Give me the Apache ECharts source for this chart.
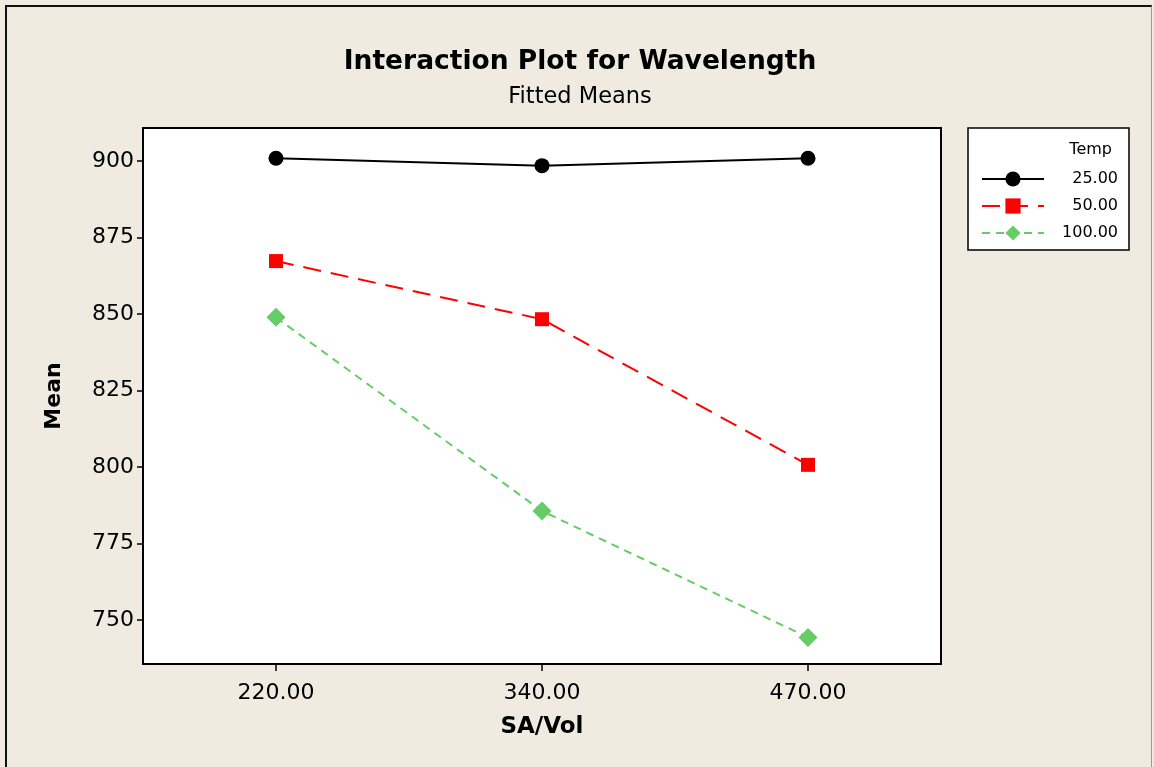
<!DOCTYPE html>
<html>
<head>
<meta charset="utf-8">
<script src="https://cdn.jsdelivr.net/npm/echarts@6/dist/echarts.min.js"></script>
<style>
  html, body { margin: 0; padding: 0; background: #EFEBE1; }
  #frame { position: absolute; left: 0; top: 0; width: 1154px; height: 767px; }
  #chart { position: absolute; left: 0; top: 0; width: 1154px; height: 767px; }
  #edge { position: absolute; left: 5px; top: 5px; width: 1147px; height: 762px;
          border-left: 2px solid #111; border-top: 2px solid #111; border-right: 1px solid #999;
          box-sizing: border-box; pointer-events: none; }
</style>
</head>
<body>
<div id="frame">
  <div id="chart"></div>
  <div id="edge"></div>
</div>
<script>
// Factor levels and fitted means
const saVolLevels = ['220.00', '340.00', '470.00'];
const tempLevels = ['25.00', '50.00', '100.00'];
const meansTemp25 = [900.9, 898.5, 900.9];
const meansTemp50 = [867.3, 848.3, 800.7];
const meansTemp100 = [848.9, 785.6, 744.3];
const yTicks = [750, 775, 800, 825, 850, 875, 900];

const font = '"DejaVu Sans", Verdana, sans-serif';

const chart = echarts.init(document.getElementById('chart'), null, { renderer: 'canvas' });

chart.setOption({
  backgroundColor: 'transparent',
  animation: false,
  title: {
    text: 'Interaction Plot for Wavelength',
    subtext: 'Fitted Means',
    left: 575,
    textAlign: 'center',
    top: 44,
    itemGap: 10,
    textStyle: { fontFamily: font, fontWeight: 'bold', fontSize: 26.5, color: '#000' },
    subtextStyle: { fontFamily: font, fontSize: 22.5, color: '#000' }
  },
  grid: {
    left: 143, right: 213, top: 128, bottom: 103,
    show: true, backgroundColor: '#fff', borderColor: '#000', borderWidth: 2
  },
  xAxis: {
    type: 'category',
    data: saVolLevels,
    boundaryGap: true,
    name: 'SA/Vol',
    nameLocation: 'middle',
    nameGap: 52,
    nameTextStyle: { fontFamily: font, fontWeight: 'bold', fontSize: 23, color: '#000' },
    axisLine: { show: true, lineStyle: { color: '#000', width: 2 } },
    axisTick: { show: true, alignWithLabel: true, length: 7, lineStyle: { color: '#000', width: 1.5 } },
    axisLabel: { fontFamily: font, fontSize: 22, color: '#000', margin: 18 },
    splitLine: { show: false }
  },
  yAxis: {
    type: 'value',
    min: 735.6,
    max: 910.8,
    name: 'Mean',
    nameLocation: 'middle',
    nameGap: 78,
    nameRotate: 90,
    nameTextStyle: { fontFamily: font, fontWeight: 'bold', fontSize: 22, color: '#000' },
    axisLine: { show: true, lineStyle: { color: '#000', width: 2 } },
    axisTick: { show: true, length: 6, customValues: yTicks, lineStyle: { color: '#000', width: 1.5 } },
    axisLabel: { fontFamily: font, fontSize: 22, color: '#000', margin: 9, customValues: yTicks },
    splitLine: { show: false }
  },
  legend: {
    orient: 'vertical',
    left: 976,
    top: 166,
    itemWidth: 62,
    itemHeight: 19,
    itemGap: 11,
    data: tempLevels,
    formatter: name => '{v|' + name + '}',
    textStyle: {
      fontFamily: font, fontSize: 16, color: '#000',
      rich: { v: { width: 69, align: 'right', fontFamily: font, fontSize: 16 } }
    }
  },
  graphic: [
    {
      type: 'rect', z: -1,
      shape: { x: 968, y: 128, width: 161, height: 122 },
      style: { fill: '#fff', stroke: '#000', lineWidth: 1.5 }
    },
    {
      type: 'text', z: 10,
      style: { x: 1112, y: 150, text: 'Temp', textAlign: 'right', textVerticalAlign: 'middle',
               font: '16px ' + font, fill: '#000' }
    }
  ],
  series: [
    {
      name: tempLevels[0], type: 'line', data: meansTemp25,
      symbol: 'circle', symbolSize: 15,
      itemStyle: { color: '#000' },
      lineStyle: { color: '#000', width: 2, type: 'solid' }
    },
    {
      name: tempLevels[1], type: 'line', data: meansTemp50,
      symbol: 'rect', symbolSize: 14,
      itemStyle: { color: '#FF0000' },
      lineStyle: { color: '#FF0000', width: 2, type: [18, 10] }
    },
    {
      name: tempLevels[2], type: 'line', data: meansTemp100,
      symbol: 'diamond', symbolSize: 19,
      itemStyle: { color: '#66CC66' },
      lineStyle: { color: '#66CC66', width: 2, type: [8, 6] }
    }
  ]
});
</script>
</body>
</html>
